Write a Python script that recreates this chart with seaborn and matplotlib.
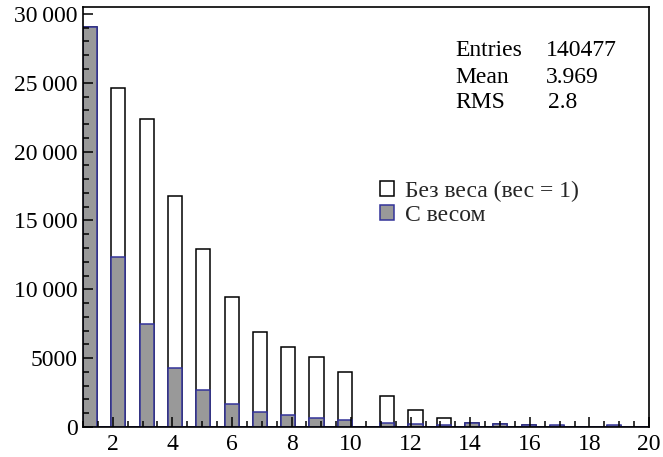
import matplotlib
matplotlib.use("Agg")
import matplotlib.pyplot as plt
from matplotlib.ticker import MultipleLocator, FuncFormatter
from matplotlib.patches import Patch
import seaborn as sns
import numpy as np

# ---- data ----
values = [1, 2, 3, 4, 5, 6, 7, 8, 9, 10, 11, 12, 13, 14, 15, 16, 17, 18, 19]
counts_unweighted = [29070, 24620, 22390, 16750, 12930, 9420, 6900, 5810, 5060, 3990,
                     2230, 1230, 630, 320, 220, 140, 100, 0, 100]
counts_weighted = [29070, 12320, 7480, 4300, 2720, 1650, 1100, 850, 680, 500,
                   320, 240, 180, 300, 240, 150, 110, 0, 110]
legend_labels = ["Без веса (вес = 1)", "С весом"]
stats_names = ["Entries", "Mean", "RMS"]
stats_values = ["140477", "3.969", "2.8"]

sns.set_theme(style="white")
plt.rcParams["font.family"] = ["Liberation Serif", "DejaVu Serif"]
plt.rcParams["axes.unicode_minus"] = False

W, H = 663, 457
fig = plt.figure(figsize=(W / 100, H / 100), dpi=100)
ax = fig.add_axes([83 / W, 1 - 427 / H, (649 - 83) / W, (427 - 7.3) / H])

sns.histplot(x=values, weights=counts_unweighted, bins=40, binrange=(1, 20),
             color="white", edgecolor="black", linewidth=1.1, alpha=1, ax=ax)
sns.histplot(x=values, weights=counts_weighted, bins=40, binrange=(1, 20),
             color="#999999", edgecolor="#333399", linewidth=1.1, alpha=1, ax=ax)

ax.set_xlim(1, 20)
ax.set_ylim(0, 30480)
ax.set_xlabel("")
ax.set_ylabel("")
ax.set_axisbelow(False)

ax.xaxis.set_major_locator(MultipleLocator(2))
ax.xaxis.set_minor_locator(MultipleLocator(0.5))
ax.yaxis.set_major_locator(MultipleLocator(5000))
ax.yaxis.set_minor_locator(MultipleLocator(1000))


def yfmt(v, pos):
    v = int(round(v))
    if v >= 10000:
        return f"{v:,}".replace(",", "\u2009")
    return str(v)


ax.yaxis.set_major_formatter(FuncFormatter(yfmt))
ax.xaxis.set_major_formatter(FuncFormatter(lambda v, p: f"{int(round(v))}"))

ax.tick_params(axis="both", which="major", direction="in", length=7.5, width=1.1,
               color="black", labelsize=17, labelcolor="black")
ax.tick_params(axis="both", which="minor", direction="in", length=4.5, width=1.1,
               color="black")
ax.tick_params(axis="x", which="both", bottom=True, top=False, pad=5)
ax.tick_params(axis="y", which="both", left=True, right=False, pad=4)

for sp in ax.spines.values():
    sp.set_visible(True)
    sp.set_color("black")
    sp.set_linewidth(1.2)

# stats box (no frame)
ys = [50.7, 77.5, 103]
xs_val = [546, 546, 548]
for name, val, y, xv in zip(stats_names, stats_values, ys, xs_val):
    fig.text(455 / W, 1 - y / H, name, fontsize=17, va="center", ha="left", color="black")
    fig.text(xv / W, 1 - y / H, val, fontsize=17, va="center", ha="left", color="black")

handles = [Patch(facecolor="white", edgecolor="black", linewidth=1.1),
           Patch(facecolor="#999999", edgecolor="#333399", linewidth=1.1)]
fig.legend(handles, legend_labels, loc="upper left",
           bbox_to_anchor=(380 / W, 1 - 181 / H), frameon=False,
           fontsize=17, handlelength=0.6, handleheight=0.6,
           handletextpad=0.45, labelspacing=0.12, borderpad=0, borderaxespad=0)

fig.savefig("out.png", dpi=100)
